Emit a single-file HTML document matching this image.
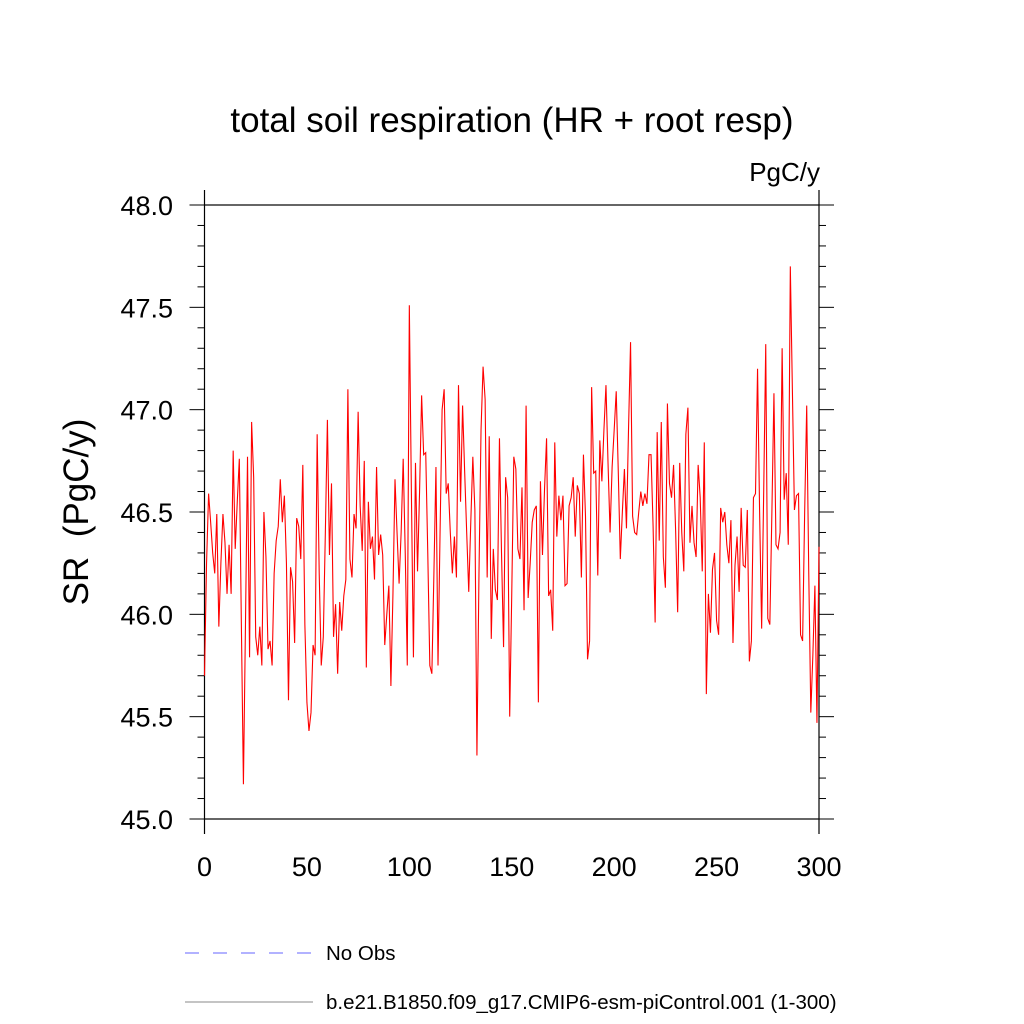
<!DOCTYPE html>
<html><head><meta charset="utf-8"><style>
body{margin:0;background:#fff;}
svg{display:block;font-family:"Liberation Sans",sans-serif;}
</style></head><body>
<svg id="chart" width="1024" height="1024" viewBox="0 0 1024 1024">
<text x="512" y="132" font-size="35" text-anchor="middle">total soil respiration (HR + root resp)</text>
<text x="820" y="181" font-size="26" text-anchor="end">PgC/y</text>
<text transform="translate(88,512) rotate(-90)" font-size="35" text-anchor="middle" xml:space="preserve">SR  (PgC/y)</text>
<g id="axes"></g>
<g id="series"></g>
<g>
<line x1="185" y1="953" x2="315" y2="953" stroke="#6666ff" stroke-width="1" stroke-dasharray="14,14"/>
<text x="326" y="960" font-size="20.5">No Obs</text>
<line x1="185" y1="1002" x2="313" y2="1002" stroke="#888" stroke-width="1"/>
<text x="326" y="1009" font-size="20.5">b.e21.B1850.f09_g17.CMIP6-esm-piControl.001 (1-300)</text>
</g>
</svg>
<script>
const xTicks = [0,50,100,150,200,250,300];
const yTicks = [45.0,45.5,46.0,46.5,47.0,47.5,48.0];
const yTickLabels = ["45.0","45.5","46.0","46.5","47.0","47.5","48.0"];
const srValues = [45.70,46.25,46.59,46.45,46.30,46.20,46.49,45.94,46.25,46.49,46.35,46.10,46.34,46.10,46.80,46.32,46.55,46.76,45.95,45.17,45.95,46.77,45.79,46.94,46.67,45.89,45.80,45.94,45.75,46.50,46.28,45.83,45.87,45.75,46.20,46.36,46.43,46.66,46.45,46.58,46.25,45.58,46.23,46.16,45.86,46.47,46.43,46.27,46.73,45.95,45.57,
45.43,45.52,45.85,45.80,46.88,46.20,45.75,45.89,46.40,46.95,46.29,46.64,45.89,46.05,45.71,46.06,45.92,46.09,46.17,47.10,46.27,46.18,46.49,46.42,46.99,46.53,46.31,46.75,45.74,46.55,46.32,46.38,46.17,46.72,46.29,46.39,46.29,45.85,46.00,46.14,45.65,46.10,46.66,46.40,46.15,46.40,46.76,46.30,45.75,47.51,
46.60,45.79,46.74,46.21,46.60,47.07,46.78,46.79,46.30,45.75,45.71,46.20,46.72,45.75,46.40,47.00,47.10,46.59,46.64,46.40,46.20,46.38,46.18,47.12,46.55,47.02,46.70,46.40,46.11,46.45,46.77,46.51,45.31,46.20,46.90,47.21,47.05,46.18,46.87,45.88,46.32,46.12,46.07,46.86,46.30,45.84,46.67,46.57,45.50,46.10,
46.77,46.71,46.32,46.27,46.62,46.02,47.02,46.08,46.25,46.45,46.51,46.53,45.57,46.65,46.29,46.61,46.86,46.09,46.12,45.92,46.84,46.38,46.58,46.46,46.58,46.14,46.15,46.53,46.57,46.67,46.38,46.63,46.59,46.18,46.78,46.48,45.78,45.87,47.11,46.69,46.70,46.19,46.85,46.65,46.90,47.12,46.74,46.40,46.72,46.90,
47.09,46.70,46.27,46.50,46.71,46.42,46.90,47.33,46.48,46.40,46.39,46.50,46.60,46.53,46.59,46.54,46.78,46.78,46.43,45.96,46.89,46.36,46.94,46.28,46.13,47.03,46.64,46.57,46.73,46.41,46.01,46.74,46.40,46.21,46.88,47.01,46.35,46.53,46.35,46.28,46.73,46.57,46.21,46.84,45.61,46.10,45.91,46.22,46.30,45.97,
45.90,46.52,46.45,46.50,46.34,46.25,46.46,45.86,46.24,46.38,46.11,46.52,46.24,46.23,46.51,45.77,45.87,46.57,46.59,47.20,46.50,45.93,46.60,47.32,45.98,45.95,46.50,47.08,46.34,46.32,46.40,47.30,46.56,46.69,46.34,47.70,47.10,46.51,46.58,46.59,45.90,45.87,46.50,47.02,46.20,45.52,45.80,46.14,45.47,46.33];

const NS="http://www.w3.org/2000/svg";
const L=204.5,R=819,T=205,B=819;
const xMin=0,xMax=300,yMin=45,yMax=48;
function sx(v){return L+(v-xMin)/(xMax-xMin)*(R-L);}
function sy(v){return B-(v-yMin)/(yMax-yMin)*(B-T);}
function mk(tag,attrs,parent){const e=document.createElementNS(NS,tag);for(const k in attrs)e.setAttribute(k,attrs[k]);parent.appendChild(e);return e;}
const axes=document.getElementById('axes');
const frame=mk('rect',{x:L,y:T,width:R-L,height:B-T,fill:'none',stroke:'#000','stroke-width':1.2},axes);


[xMin,xMax].forEach(v=>{
  const x=sx(v);
  const t1=mk('line',{x1:x,y1:B,x2:x,y2:B+15,stroke:'#000','stroke-width':1.2},axes);
  
  
  const t2=mk('line',{x1:x,y1:T,x2:x,y2:T-15,stroke:'#000','stroke-width':1.2},axes);
  
  
});
for(let i=0;i<=30;i++){
  const v=45+i*0.1;const major=(i%5===0);const len=major?15:7;const y=sy(v);
  const t1=mk('line',{x1:L-len,y1:y,x2:L,y2:y,stroke:'#000','stroke-width':1},axes);
  
  
  const t2=mk('line',{x1:R,y1:y,x2:R+len,y2:y,stroke:'#000','stroke-width':1},axes);
  
  
}
xTicks.forEach(v=>{
  const t=mk('text',{x:sx(v),y:876,'font-size':27,'text-anchor':'middle'},axes);t.textContent=String(v);
  
  
});
yTicks.forEach((v,i)=>{
  const t=mk('text',{x:173,y:sy(v)+10,'font-size':27,'text-anchor':'end'},axes);t.textContent=yTickLabels[i];
  
  
});
const series=document.getElementById('series');
const pts=srValues.map((v,i)=>sx(i).toFixed(2)+','+sy(v).toFixed(2)).join(' ');
const line=mk('polyline',{points:pts,fill:'none',stroke:'#ff0000','stroke-width':1.1,'stroke-linejoin':'miter'},series);


</script>
</body></html>
